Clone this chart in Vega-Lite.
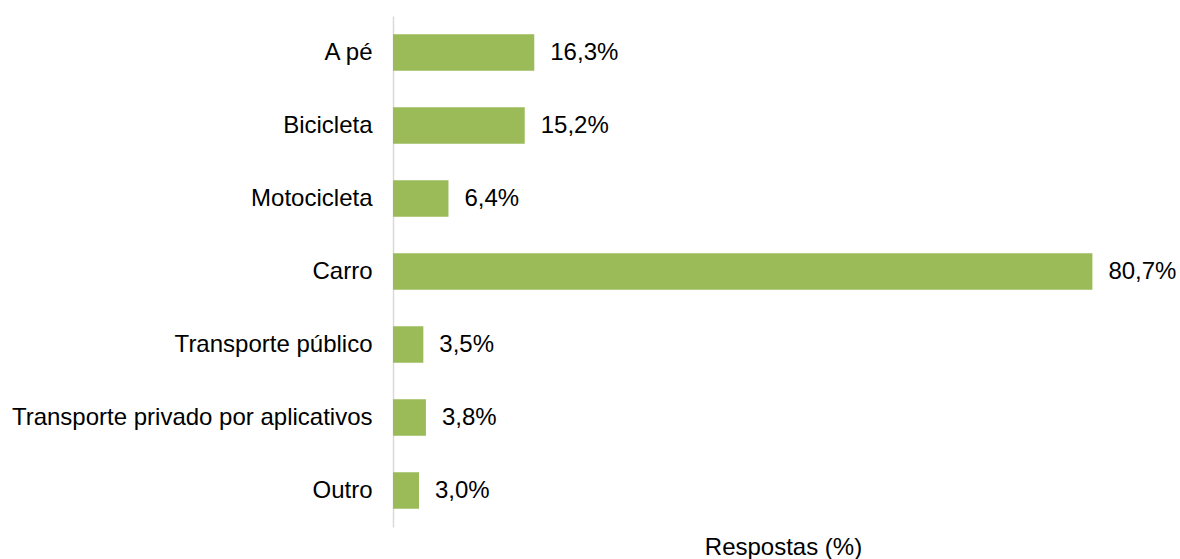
{
  "$schema": "https://vega.github.io/schema/vega-lite/v6.json",
  "width": 780,
  "height": 511,
  "autosize": {"type": "none"},
  "padding": {"left": 393, "top": 16, "right": 7, "bottom": 32},
  "background": "white",
  "data": {
    "values": [
      {"modo": "A pé", "valor": 16.3, "rotulo": "16,3%"},
      {"modo": "Bicicleta", "valor": 15.2, "rotulo": "15,2%"},
      {"modo": "Motocicleta", "valor": 6.4, "rotulo": "6,4%"},
      {"modo": "Carro", "valor": 80.7, "rotulo": "80,7%"},
      {"modo": "Transporte público", "valor": 3.5, "rotulo": "3,5%"},
      {"modo": "Transporte privado por aplicativos", "valor": 3.8, "rotulo": "3,8%"},
      {"modo": "Outro", "valor": 3.0, "rotulo": "3,0%"}
    ]
  },
  "encoding": {
    "y": {
      "field": "modo",
      "type": "nominal",
      "sort": null,
      "scale": {"paddingInner": 0.5, "paddingOuter": 0.25},
      "axis": {
        "title": null,
        "ticks": false,
        "tickSize": 0,
        "labelPadding": 21,
        "labelFont": "Liberation Sans",
        "labelFontSize": 24,
        "labelColor": "#000000",
        "domainColor": "#D9D9D9",
        "domainWidth": 1.5,
        "grid": false,
        "labelLimit": 400
      }
    },
    "x": {
      "field": "valor",
      "type": "quantitative",
      "scale": {"domain": [0, 90]},
      "axis": {
        "title": "Respostas (%)",
        "labels": false,
        "ticks": false,
        "domain": false,
        "grid": false,
        "titleFont": "Liberation Sans",
        "titleFontSize": 24,
        "titleFontWeight": "normal",
        "titleColor": "#000000",
        "titlePadding": 8
      }
    }
  },
  "layer": [
    {"mark": {"type": "bar", "color": "#9BBB59"}},
    {
      "mark": {"type": "text", "align": "left", "baseline": "middle", "dx": 16, "font": "Liberation Sans", "fontSize": 24, "color": "#000000"},
      "encoding": {"text": {"field": "rotulo"}}
    }
  ],
  "config": {"view": {"stroke": null}}
}
